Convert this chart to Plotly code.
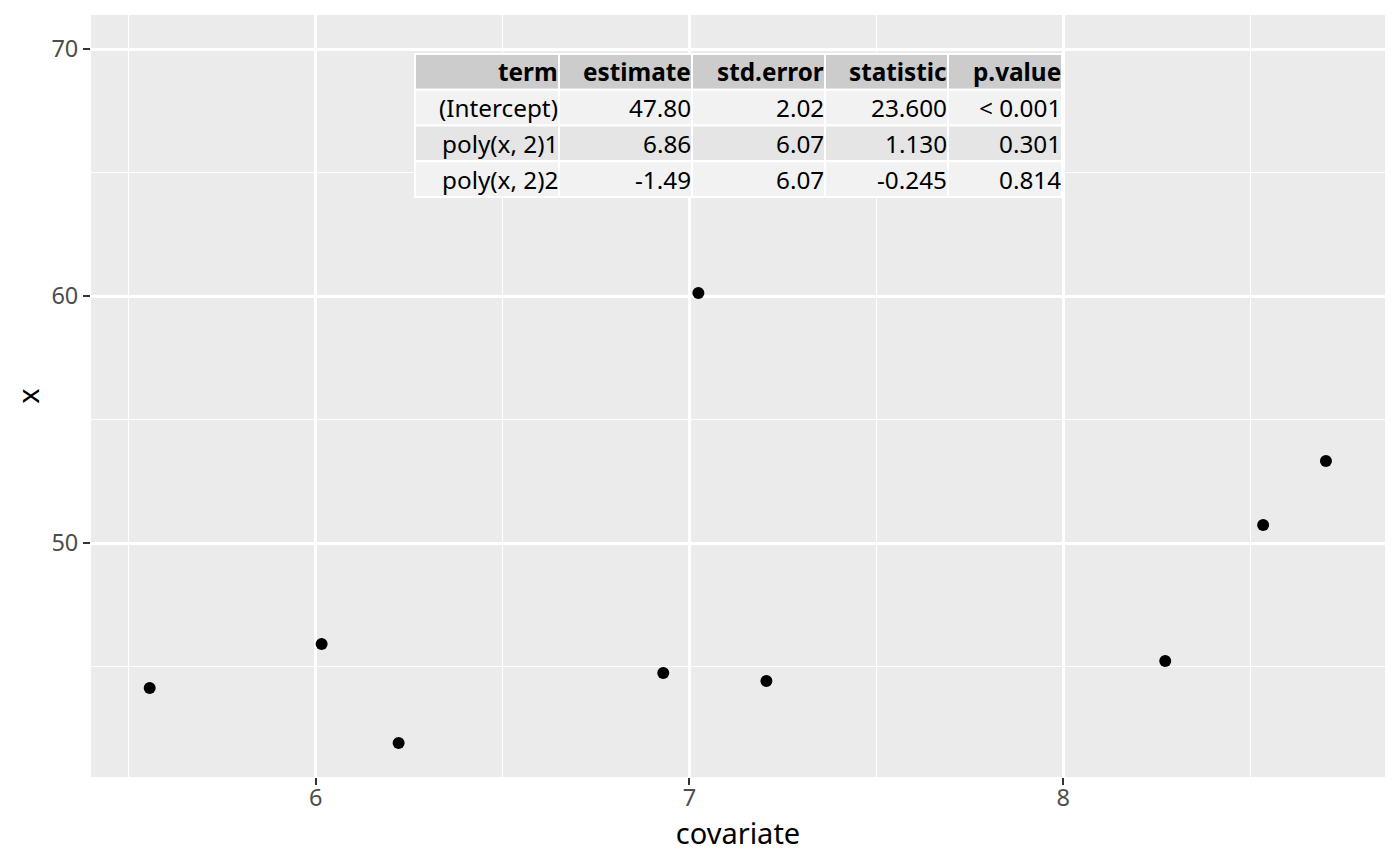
import plotly.graph_objects as go

covariate = [5.556, 6.016, 6.222, 6.930, 7.024, 7.206, 8.273, 8.535, 8.703]
x_vals = [44.13, 45.91, 41.90, 44.74, 60.12, 44.41, 45.22, 50.73, 53.32]

x_ticks = [6, 7, 8]
y_ticks = [50, 60, 70]

tbl_cols = ["term", "estimate", "std.error", "statistic", "p.value"]
tbl_term = ["(Intercept)", "poly(x, 2)1", "poly(x, 2)2"]
tbl_estimate = ["47.80", "6.86", "-1.49"]
tbl_stderr = ["2.02", "6.07", "6.07"]
tbl_statistic = ["23.600", "1.130", "-0.245"]
tbl_pvalue = ["< 0.001", "0.301", "0.814"]

# ---- layout constants (pixels) ----
W, H = 1384, 850
ML, MR, MT, MB = 83, 7, 7, 81
plot_w = W - ML - MR
plot_h = H - MT - MB
# table geometry relative to plot area top-left (pixels)
tbl_left = 324
tbl_top = 39
col_w = [144, 133, 133, 123, 114]
row_h = 35.75
font_tbl = 24.3
text_pad = 0

fig = go.Figure()
fig.add_trace(go.Scatter(
    x=covariate, y=x_vals, mode="markers",
    marker=dict(color="black", size=12),
    showlegend=False, hoverinfo="x+y",
))

columns = [tbl_term, tbl_estimate, tbl_stderr, tbl_statistic, tbl_pvalue]
n_rows = 1 + len(tbl_term)
row_fills = ["#CCCCCC", "#F2F2F2", "#E5E5E5", "#F2F2F2"]

shapes = []
annotations = []
for r in range(n_rows):
    y0px = tbl_top + r * row_h
    y1px = y0px + row_h
    py0 = 1 - y1px / plot_h
    py1 = 1 - y0px / plot_h
    xpx = tbl_left
    for c, cw in enumerate(col_w):
        px0 = xpx / plot_w
        px1 = (xpx + cw) / plot_w
        shapes.append(dict(type="rect", xref="paper", yref="paper",
                           x0=px0, x1=px1, y0=py0, y1=py1,
                           fillcolor=row_fills[r], line=dict(color="white", width=2),
                           layer="above"))
        if r == 0:
            txt = "<b>%s</b>" % tbl_cols[c]
        else:
            txt = columns[c][r - 1].replace("<", "&lt;")
        annotations.append(dict(xref="paper", yref="paper",
                                x=(xpx + cw - text_pad) / plot_w, y=(py0 + py1) / 2,
                                xanchor="right", yanchor="middle",
                                text=txt, showarrow=False, borderpad=0,
                                font=dict(family="Noto Sans", size=font_tbl, color="black")))
        xpx += cw

axis_common = dict(
    showgrid=True, gridcolor="white", gridwidth=2.8,
    zeroline=False, showline=False,
    ticks="outside", ticklen=7, tickwidth=2, tickcolor="#333333",
    tickfont=dict(family="Noto Sans", size=23.5, color="#4D4D4D"),
    title_font=dict(family="Noto Sans", size=29, color="black"),
)

fig.update_xaxes(
    **axis_common,
    range=[5.399, 8.861], tickvals=x_ticks,
    minor=dict(tickvals=[5.5, 6.5, 7.5, 8.5], showgrid=True, gridcolor="white", gridwidth=1.4, ticks=""),
    title_text="covariate", title_standoff=8, ticklabelstandoff=-7,
)
fig.update_yaxes(
    **axis_common,
    range=[40.526, 71.377], tickvals=y_ticks,
    minor=dict(tickvals=[45, 55, 65], showgrid=True, gridcolor="white", gridwidth=1.4, ticks=""),
    title_text="x", title_standoff=10,
)

fig.update_layout(
    width=W, height=H,
    margin=dict(l=ML, r=MR, t=MT, b=MB),
    paper_bgcolor="white", plot_bgcolor="#EBEBEB",
    font=dict(family="Noto Sans"),
    shapes=shapes, annotations=annotations,
)

fig.write_html("out.html")
